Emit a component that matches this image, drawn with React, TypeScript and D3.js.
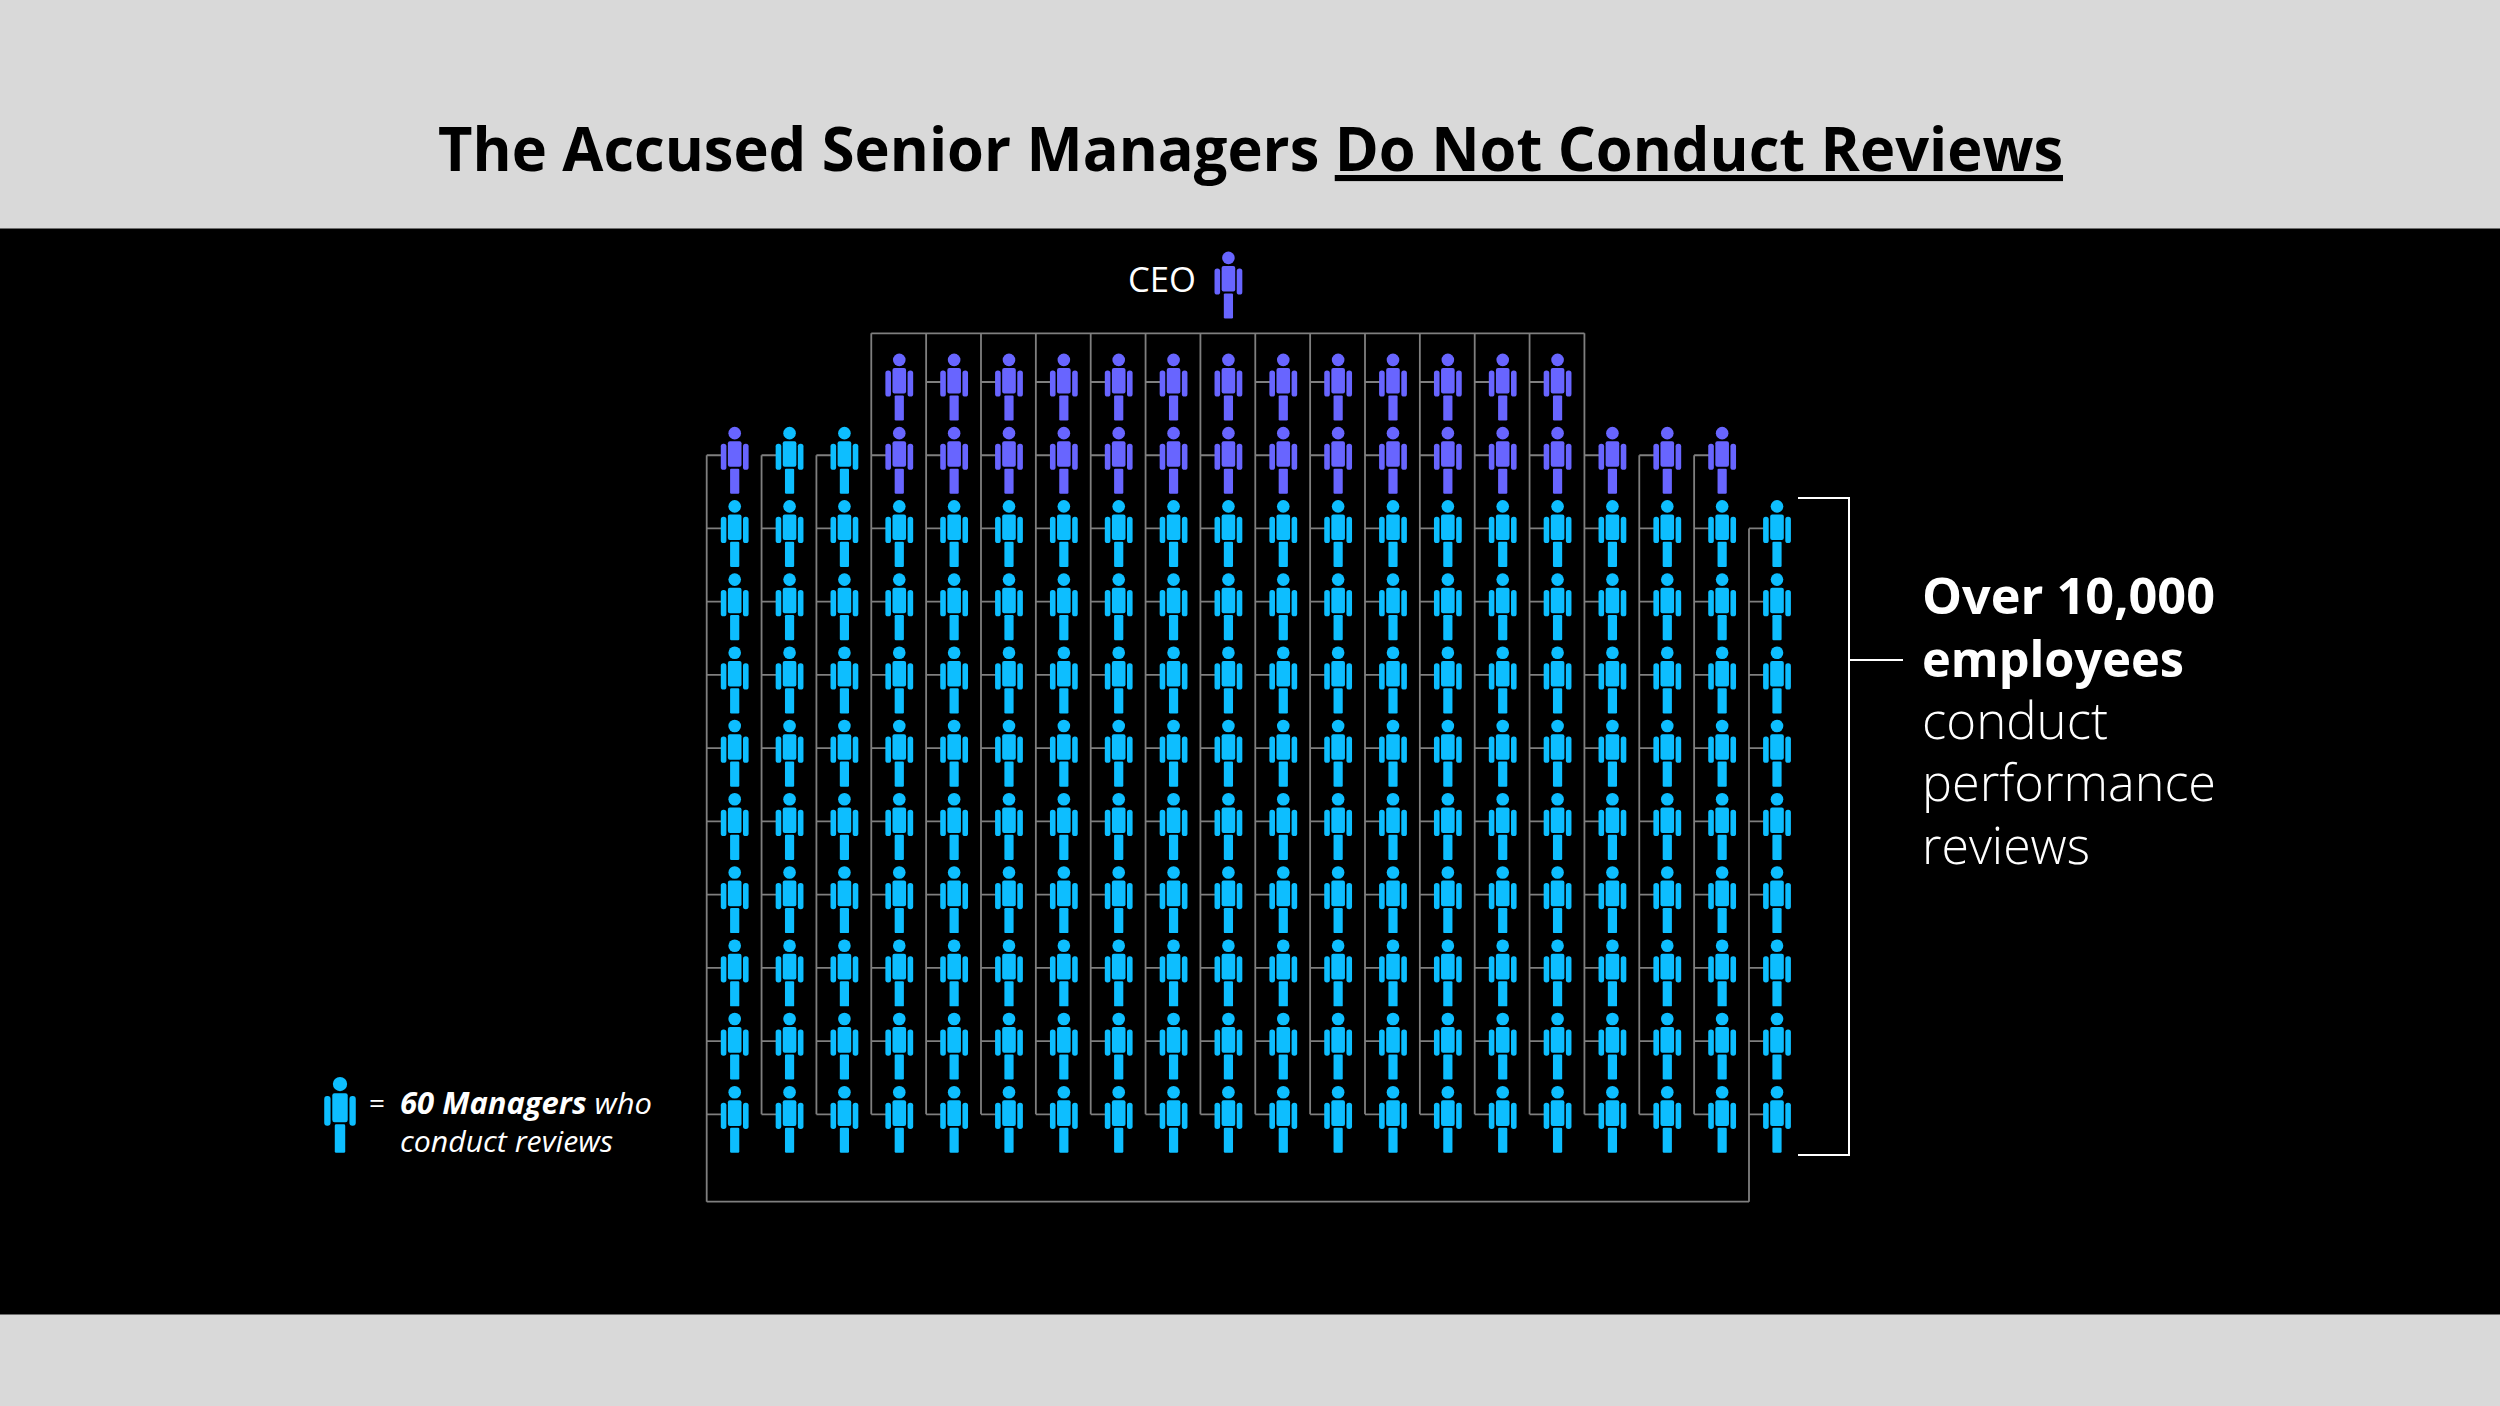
import React from "react";
import * as d3 from "d3";

// ---- data ----
const columns = [0, 1, 2, 3, 4, 5, 6, 7, 8, 9, 10, 11, 12, 13, 14, 15, 16, 17, 18, 19];
const rows = [0, 1, 2, 3, 4, 5, 6, 7, 8, 9, 10];
// first occupied row in each column
const columnStartRow = [1, 1, 1, 0, 0, 0, 0, 0, 0, 0, 0, 0, 0, 0, 0, 0, 1, 1, 1, 2];
// number of senior (purple) figures at the head of each column
const columnSeniorCount = [1, 0, 0, 2, 2, 2, 2, 2, 2, 2, 2, 2, 2, 2, 2, 2, 1, 1, 1, 0];
// columns whose top-row figure has no connector
const topRowUnconnected = [3, 9];
// columns that hang from the top bar, and from the bottom bar
const topBarColumns = [3, 4, 5, 6, 7, 8, 9, 10, 11, 12, 13, 14, 15, 16];
const bottomBarColumns = [0, 19];
const ceoColumn = 9;
const titlePlain = "The Accused Senior Managers ";
const titleUnderlined = "Do Not Conduct Reviews";
const boldLines = ["Over 10,000", "employees"];
const boldWidths = [293, 262];
const lightLines = ["conduct", "performance", "reviews"];
const lightWidths = [186, 294, 168];

// ---- style ----
const BLUE = "#0dbeff";
const PURPLE = "#6865ff";
const GREY = "#7f7f7f";
const BAND = "#d9d9d9";
const FONT = "'Open Sans', 'Noto Sans', sans-serif";

const x = d3.scaleLinear().domain([0, 19]).range([734.7, 1777]);
const y = d3.scaleLinear().domain([0, 10]).range([353.7, 1086]);
const STUB_DY = 28.3;
const V_DX = -28;
const TOP_BAR = 333.3;
const BOTTOM_BAR = 1201.7;

function Person({ cx, top, fill, s = 1 }: { cx: number; top: number; fill: string; s?: number }) {
  return (
    <g transform={`translate(${cx},${top}) scale(${s})`} fill={fill}>
      <circle cx={0} cy={6.2} r={6.3} />
      <rect x={-6.8} y={14.3} width={13.6} height={25.6} rx={2} />
      <rect x={-13.9} y={16.7} width={5.6} height={26.2} rx={2.6} />
      <rect x={8.3} y={16.7} width={5.6} height={26.2} rx={2.6} />
      <rect x={-4.6} y={41.7} width={9.2} height={25.1} rx={1.2} />
    </g>
  );
}

export default function App() {
  const lastRow = rows[rows.length - 1];
  const lines: string[] = [];
  columns.forEach((c) => {
    const vx = x(c) + V_DX;
    const start = columnStartRow[c];
    const y1 = topBarColumns.includes(c) ? TOP_BAR : y(start) + STUB_DY;
    const y2 = bottomBarColumns.includes(c) ? BOTTOM_BAR : y(lastRow) + STUB_DY;
    lines.push(`M${vx},${y1}V${y2}`);
    rows
      .filter((r) => r >= start)
      .forEach((r) => {
        if (r === 0 && topRowUnconnected.includes(c)) return;
        lines.push(`M${vx},${y(r) + STUB_DY}H${x(c) - 13}`);
      });
  });
  lines.push(`M${x(3) + V_DX},${TOP_BAR}H${x(16) + V_DX}`);
  lines.push(`M${x(0) + V_DX},${BOTTOM_BAR}H${x(19) + V_DX}`);

  return (
    <svg
      width={2500}
      height={1406}
      viewBox="0 0 2500 1406"
      style={{ position: "absolute", left: 0, top: 0, display: "block", background: "#000" }}
      fontFamily={FONT}
    >
      <rect x={0} y={0} width={2500} height={228.5} fill={BAND} />
      <rect x={0} y={1314.5} width={2500} height={92} fill={BAND} />

      <text x={438} y={171} fontSize={61} fontWeight={700} fill="#000" textLength={1625} lengthAdjust="spacingAndGlyphs">
        <tspan>{titlePlain}</tspan>
        <tspan textDecoration="underline">{titleUnderlined}</tspan>
      </text>

      <path d={lines.join("")} fill="none" stroke={GREY} strokeWidth={1.8} />

      {columns.map((c) =>
        rows
          .filter((r) => r >= columnStartRow[c])
          .map((r) => (
            <Person
              key={`${c}-${r}`}
              cx={x(c)}
              top={y(r)}
              fill={r - columnStartRow[c] < columnSeniorCount[c] ? PURPLE : BLUE}
            />
          ))
      )}

      <text x={1128} y={292} fontSize={35} fontWeight={400} fill="#fff" textLength={68} lengthAdjust="spacingAndGlyphs">CEO</text>
      <Person cx={x(ceoColumn)} top={251.7} fill={PURPLE} />

      <path d="M1798,498H1849V1155H1798M1849,660H1903" fill="none" stroke="#fff" strokeWidth={2} />

      <g fontSize={51} fill="#fff">
        {boldLines.map((t, i) => (
          <text key={t} x={1922} y={614 + i * 62.5} fontWeight={700} textLength={boldWidths[i]} lengthAdjust="spacingAndGlyphs">{t}</text>
        ))}
        {lightLines.map((t, i) => (
          <text key={t} x={1922} y={739 + i * 62.4} fontWeight={300} textLength={lightWidths[i]} lengthAdjust="spacingAndGlyphs">{t}</text>
        ))}
      </g>

      <Person cx={340} top={1077} fill={BLUE} s={1.135} />
      <text x={369} y={1113} fontSize={28} fontWeight={400} fill="#fff">=</text>
      <text x={400} y={1114} fontSize={30} fill="#fff" fontStyle="italic" textLength={252} lengthAdjust="spacingAndGlyphs">
        <tspan fontWeight={700}>60 Managers </tspan>
        <tspan fontWeight={400}>who</tspan>
      </text>
      <text x={400} y={1152} fontSize={30} fontWeight={400} fill="#fff" fontStyle="italic" textLength={213} lengthAdjust="spacingAndGlyphs">conduct reviews</text>
    </svg>
  );
}
